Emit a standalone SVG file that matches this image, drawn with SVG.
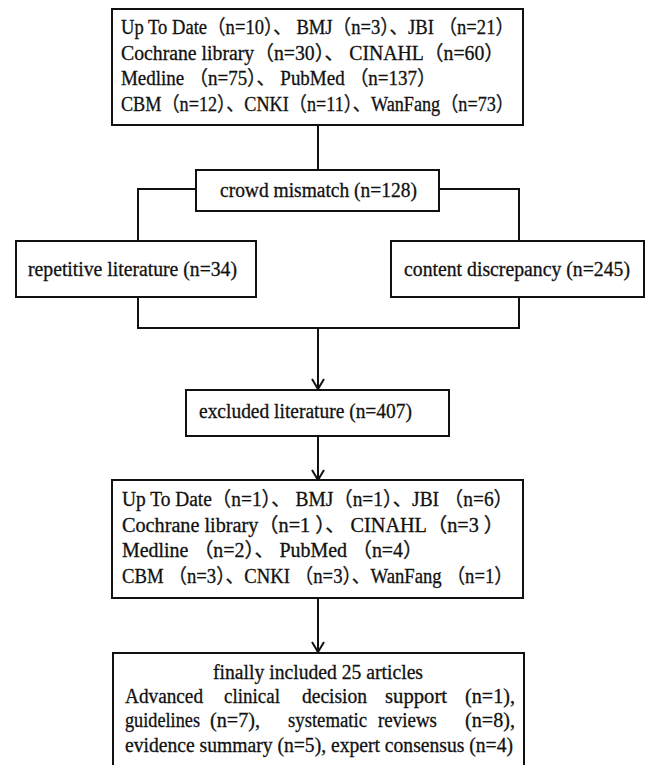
<svg xmlns="http://www.w3.org/2000/svg" width="650" height="765" viewBox="0 0 650 765">
<defs>
<style>
.box{fill:#fff;stroke:#111;stroke-width:2}
.t{font-family:"Liberation Serif","Times New Roman","Noto Sans CJK SC",serif;font-size:20px;fill:#111;stroke:#111;stroke-width:0.3}
.c{fill:none;stroke:#111;stroke-width:2}
</style>
<marker id="arr" viewBox="0 0 12 14" refX="11" refY="7" markerWidth="12" markerHeight="14" markerUnits="userSpaceOnUse" orient="auto">
<path d="M1,1 L11,7 L1,13" fill="none" stroke="#111" stroke-width="2"/>
</marker>
</defs>
<rect width="650" height="765" fill="#fff"/>
<g id="connectors">
<line class="c" x1="318" y1="125" x2="318" y2="170"/>
<polyline class="c" points="196,189 138,189 138,241"/>
<polyline class="c" points="439,189 519,189 519,241"/>
<polyline class="c" points="138,297 138,328 519,328 519,297"/>
<line class="c" x1="318" y1="328" x2="318" y2="389" marker-end="url(#arr)"/>
<line class="c" x1="318" y1="436" x2="318" y2="480" marker-end="url(#arr)"/>
<line class="c" x1="318" y1="598" x2="318" y2="652" marker-end="url(#arr)"/>
</g>
<g id="sources">
<rect class="box" x="112" y="9" width="411" height="116"/>
<text class="t" x="121" y="34" textLength="393" lengthAdjust="spacingAndGlyphs">Up To Date（n=10）、 BMJ（n=3）、JBI （n=21）</text>
<text class="t" x="121" y="60" textLength="383" lengthAdjust="spacingAndGlyphs">Cochrane library（n=30）、  CINAHL（n=60）</text>
<text class="t" x="121" y="85" textLength="315" lengthAdjust="spacingAndGlyphs">Medline （n=75）、 PubMed （n=137）</text>
<text class="t" x="121" y="111" textLength="393" lengthAdjust="spacingAndGlyphs">CBM（n=12）、CNKI（n=11）、WanFang（n=73）</text>
</g>
<g id="crowd">
<rect class="box" x="196" y="170" width="243" height="41"/>
<text class="t" x="220" y="197" textLength="197" lengthAdjust="spacingAndGlyphs">crowd mismatch (n=128)</text>
</g>
<g id="repetitive">
<rect class="box" x="16" y="241" width="240" height="56"/>
<text class="t" x="28" y="276" textLength="209" lengthAdjust="spacingAndGlyphs">repetitive literature (n=34)</text>
</g>
<g id="content">
<rect class="box" x="391" y="241" width="253" height="56"/>
<text class="t" x="404" y="276" textLength="226" lengthAdjust="spacingAndGlyphs">content discrepancy (n=245)</text>
</g>
<g id="excluded">
<rect class="box" x="186" y="390" width="263" height="46"/>
<text class="t" x="199" y="418" textLength="213" lengthAdjust="spacingAndGlyphs">excluded literature (n=407)</text>
</g>
<g id="retained">
<rect class="box" x="112" y="480" width="411" height="118"/>
<text class="t" x="122" y="506" textLength="391" lengthAdjust="spacingAndGlyphs">Up To Date（n=1）、 BMJ（n=1）、JBI （n=6）</text>
<text class="t" x="122" y="532" textLength="382" lengthAdjust="spacingAndGlyphs">Cochrane library（n=1 ）、  CINAHL（n=3 ）</text>
<text class="t" x="122" y="557" textLength="301" lengthAdjust="spacingAndGlyphs">Medline （n=2）、 PubMed （n=4）</text>
<text class="t" x="122" y="583" textLength="391" lengthAdjust="spacingAndGlyphs">CBM （n=3）、CNKI （n=3）、WanFang （n=1）</text>
</g>
<g id="final">
<rect class="box" x="113" y="653" width="411" height="120"/>
<text class="t" x="213" y="679" textLength="210" lengthAdjust="spacingAndGlyphs">finally included 25 articles</text>
<text class="t" x="125" y="703" textLength="78" lengthAdjust="spacingAndGlyphs">Advanced</text>
<text class="t" x="224" y="703" textLength="56" lengthAdjust="spacingAndGlyphs">clinical</text>
<text class="t" x="302" y="703" textLength="65" lengthAdjust="spacingAndGlyphs">decision</text>
<text class="t" x="385" y="703" textLength="62" lengthAdjust="spacingAndGlyphs">support</text>
<text class="t" x="465" y="703" textLength="50" lengthAdjust="spacingAndGlyphs">(n=1),</text>
<text class="t" x="125" y="727" textLength="75" lengthAdjust="spacingAndGlyphs">guidelines</text>
<text class="t" x="210" y="727" textLength="50" lengthAdjust="spacingAndGlyphs">(n=7),</text>
<text class="t" x="288" y="727" textLength="79" lengthAdjust="spacingAndGlyphs">systematic</text>
<text class="t" x="378" y="727" textLength="59" lengthAdjust="spacingAndGlyphs">reviews</text>
<text class="t" x="465" y="727" textLength="50" lengthAdjust="spacingAndGlyphs">(n=8),</text>
<text class="t" x="125" y="752" textLength="388" lengthAdjust="spacingAndGlyphs">evidence summary (n=5), expert consensus (n=4)</text>
</g>
</svg>
